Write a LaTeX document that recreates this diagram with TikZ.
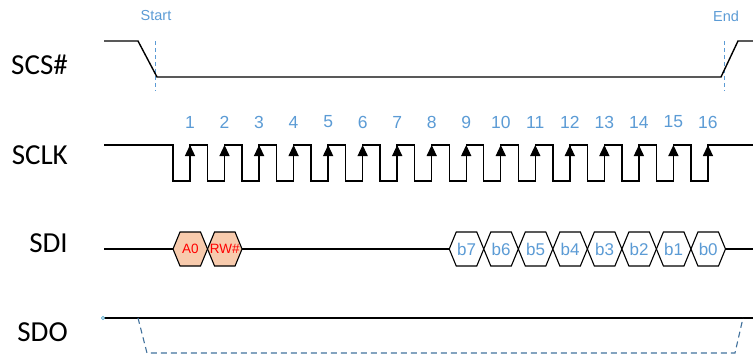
\documentclass[tikz,border=0pt]{standalone}
\usepackage{fontspec}
\setmainfont{Liberation Sans}
\newfontfamily\lblfont{Carlito}
\usetikzlibrary{arrows.meta}
\definecolor{accblue}{HTML}{5B9BD5}
\definecolor{dkblue}{HTML}{41719C}
\definecolor{peach}{HTML}{F8CBAD}
\tikzset{
  sig/.style={draw=black, line width=1.4pt},
  siglabel/.style={font=\lblfont\fontsize{29}{31}\selectfont, anchor=east, inner sep=0pt},
  numlabel/.style={font=\fontsize{17.5}{19}\selectfont, text=accblue, inner sep=0pt},
  marklabel/.style={font=\fontsize{14.5}{16}\selectfont, text=accblue, inner sep=0pt},
  markline/.style={draw=accblue, line width=1pt, dash pattern=on 4pt off 3pt},
  hexbox/.style={draw=black, line width=1.1pt, fill=white},
  hexaddr/.style={hexbox, fill=peach},
  bittext/.style={font=\fontsize{17}{19}\selectfont, text=accblue, inner sep=0pt},
  addrtext/.style={font=\fontsize{13.5}{15}\selectfont, text=red, inner sep=0pt},
  sdoline/.style={draw=dkblue, line width=1.1pt, dash pattern=on 6pt off 4pt},
  clkarrow/.style={line width=1.4pt, -{Triangle[width=10pt,length=11pt]}}
}
\newcommand{\hexcell}[6]{%
  \draw[#3] (#1,249) -- ({#1+7},232) -- ({#2-7},232) -- (#2,249) -- ({#2-7},266) -- ({#1+7},266) -- cycle;
  \node[#4] (#5) at ({(#1+#2)/2},249) {#6};
}
\begin{document}
\begin{tikzpicture}[x=1pt,y=-1pt]
\useasboundingbox (0,0) rectangle (753,356);
% labels
\node[siglabel] (lscs) at (68,65) {SCS\#};
\node[siglabel] (lsclk) at (68,155) {SCLK};
\node[siglabel] (lsdi) at (68,243) {SDI};
\node[siglabel] (lsdo) at (68,332) {SDO};
% Start / End markers
\node[marklabel] (start) at (156,16) {Start};
\node[marklabel] (end) at (726,16) {End};
\coordinate (st1) at (155,41);
\coordinate (st2) at (155,91);
\coordinate (en1) at (724,41);
\coordinate (en2) at (724,91);
\draw[markline] (st1) -- (st2);
\draw[markline] (en1) -- (en2);
% SCS#
\draw[sig] (104,41) -- (138,41) -- (157,77) -- (721,77) -- (738,41) -- (753,41);
% SCLK
\draw[sig] (104,145)
  \foreach \k in {0,...,15}{ -- ({173+\k*34.53},145) -- ({173+\k*34.53},181) -- ({190+\k*34.53},181) -- ({190+\k*34.53},145) }
  -- (753,145);
\foreach \k in {1,...,16}{
  \pgfmathsetmacro{\rx}{190+(\k-1)*34.53}
  \coordinate (ra\k) at (\rx,181);
  \coordinate (rb\k) at (\rx,145);
  \draw[clkarrow] (ra\k) -- (rb\k);
  \node[numlabel] (n\k) at (\rx,122) {\k};
}
% SDI
\draw[sig] (104,249) -- (173,249);
\draw[sig] (242.06,249) -- (449.24,249);
\draw[sig] (725.48,249) -- (753,249);
\hexcell{173}{207.53}{hexaddr}{addrtext}{a0}{A0}
\hexcell{207.53}{242.06}{hexaddr}{addrtext}{rw}{RW\#}
\foreach \i/\b in {0/b7,1/b6,2/b5,3/b4,4/b3,5/b2,6/b1,7/b0}{
  \pgfmathsetmacro{\xa}{449.24+\i*34.53}
  \pgfmathsetmacro{\xb}{449.24+(\i+1)*34.53}
  \hexcell{\xa}{\xb}{hexbox}{bittext}{\b}{\b}
}
% SDO
\draw[sig] (104,318) -- (753,318);
\draw[draw=cyan!60!gray, line width=0.6pt, fill=white] (103,318) circle (1.6);
\draw[sdoline] (138,318) -- (147,353) -- (735,353) -- (743,318);
\end{tikzpicture}
\end{document}
